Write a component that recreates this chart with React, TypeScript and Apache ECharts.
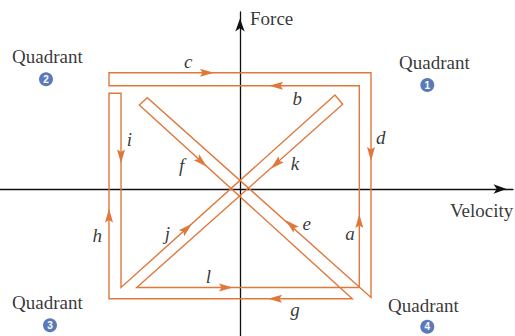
import React, { useEffect, useRef } from "react";
import * as echarts from "echarts";

// Loop path (velocity, force), in the diagram's own units
const loopVelocity = [119.3, 119.3, -131, -131, 131, 131, -92.7, -100.7, 112.3, -131, -131, -119, -119, 95, 102.7, -103.3, 119.3];
const loopForce = [-98.5, 103.3, 103.3, 116.3, 116.3, -108.5, 91.3, 84, -109.8, -109.8, 95.7, 95.7, -98.5, 94, 84.7, -98.5, -98.5];

// Direction arrows on the loop
const arrowNames = ["c", "b", "d", "i", "f", "k", "e", "a", "h", "j", "l", "g"];
const arrowVelocity = [-33, 36, 131, -119, -38.3, 36, 51, 119.3, -131, -53.3, -14, 35];
const arrowForce = [116.3, 103.3, 35, 32.5, 27, 25, -36, -32, -26.5, -39.5, -98.5, -109.8];
const arrowAngle = [-90, 90, 180, 180, -132.3, 131.6, 48.2, 0, 0, -48.1, -90, 90];

// Segment letters
const letterNames = ["c", "b", "d", "i", "f", "k", "e", "a", "h", "j", "l", "g"];
const letterVelocity = [-51.7, 57.3, 140.7, -110.7, -58.3, 55, 66.7, 110, -142.7, -72.7, -31.7, 55];
const letterForce = [127.7, 90.7, 51.7, 49.7, 24, 25.7, -34, -44, -46, -44.3, -87.7, -120];

// Quadrants
const quadrantNumbers = ["1", "2", "3", "4"];
const quadrantTextVelocity = [159, -228, -228, 148];
const quadrantTextForce = [127, 133, -113.5, -116];
const quadrantBadgeVelocity = [187.3, -194, -190, 187.3];
const quadrantBadgeForce = [104, 109.7, -136.3, -137.7];

// Axis names
const axisNames = ["Force", "Velocity"];
const axisNameVelocity = [10, 210];
const axisNameForce = [171, -21];

const ORANGE = "#E0783C";
const BLUE = "#5B7BB8";
const SERIF = "'Liberation Serif', 'Times New Roman', serif";

export default function App() {
  const ref = useRef<HTMLDivElement>(null);

  useEffect(() => {
    if (!ref.current) return;
    const chart = echarts.init(ref.current, undefined, { renderer: "svg" });

    const hiddenBits = {
      axisTick: { show: false },
      axisLabel: { show: false },
      splitLine: { show: false },
    };

    const option: any = {
      animation: false,
      backgroundColor: "#ffffff",
      grid: { left: 0, right: 2, top: 12, bottom: 0, containLabel: false },
      xAxis: {
        type: "value",
        min: -240,
        max: 273,
        axisLine: {
          show: true,
          onZero: true,
          symbol: ["none", "arrow"],
          symbolSize: [7, 13],
          symbolOffset: [0, -6.5],
          lineStyle: { color: "#111", width: 1.3 },
        },
        ...hiddenBits,
      },
      yAxis: {
        type: "value",
        min: -147,
        max: 177,
        axisLine: {
          show: true,
          onZero: true,
          symbol: ["none", "arrow"],
          symbolSize: [7, 13],
          symbolOffset: [0, -6.5],
          lineStyle: { color: "#111", width: 1.3 },
        },
        ...hiddenBits,
      },
      series: [
        {
          type: "line",
          data: loopVelocity.map((v, i) => [v, loopForce[i]]),
          symbol: "none",
          lineStyle: { color: ORANGE, width: 1.4, join: "miter" },
          silent: true,
          z: 3,
        },
        {
          type: "scatter",
          data: arrowNames.map((n, i) => ({
            name: n,
            value: [arrowVelocity[i], arrowForce[i]],
            symbolRotate: arrowAngle[i],
          })),
          symbol: "path://M4,0 L8,14 L4,11.5 L0,14 Z",
          symbolSize: [8, 14],
          symbolKeepAspect: false,
          itemStyle: { color: ORANGE, opacity: 1 },
          z: 4,
        },
        {
          type: "scatter",
          data: letterNames.map((n, i) => ({ name: n, value: [letterVelocity[i], letterForce[i]] })),
          symbolSize: 0,
          label: {
            show: true,
            position: "inside",
            formatter: (p: any) => p.name,
            fontFamily: SERIF,
            fontStyle: "italic",
            fontSize: 19,
            color: "#000",
          },
          z: 5,
        },
        {
          type: "scatter",
          data: quadrantNumbers.map((n, i) => ({ name: n, value: [quadrantTextVelocity[i], quadrantTextForce[i]] })),
          symbolSize: 0,
          label: {
            show: true,
            position: "right",
            distance: 0,
            formatter: () => "Quadrant",
            fontFamily: SERIF,
            fontSize: 19,
            color: "#000",
          },
          z: 5,
        },
        {
          type: "scatter",
          data: quadrantNumbers.map((n, i) => ({ name: n, value: [quadrantBadgeVelocity[i], quadrantBadgeForce[i]] })),
          symbol: "circle",
          symbolSize: 14,
          itemStyle: { color: BLUE, opacity: 1 },
          label: {
            show: true,
            position: "inside",
            formatter: (p: any) => p.name,
            fontFamily: "'Liberation Sans', Arial, sans-serif",
            fontWeight: "bold",
            fontSize: 10,
            color: "#ffffff",
          },
          z: 5,
        },
        {
          type: "scatter",
          data: axisNames.map((n, i) => ({ name: n, value: [axisNameVelocity[i], axisNameForce[i]] })),
          symbolSize: 0,
          label: {
            show: true,
            position: "right",
            distance: 0,
            formatter: (p: any) => p.name,
            fontFamily: SERIF,
            fontSize: 19,
            color: "#000",
          },
          z: 5,
        },
      ],
    };

    chart.setOption(option);
    return () => chart.dispose();
  }, []);

  return (
    <div
      ref={ref}
      style={{ position: "fixed", left: 0, top: 0, width: 515, height: 336, background: "#fff" }}
    />
  );
}
